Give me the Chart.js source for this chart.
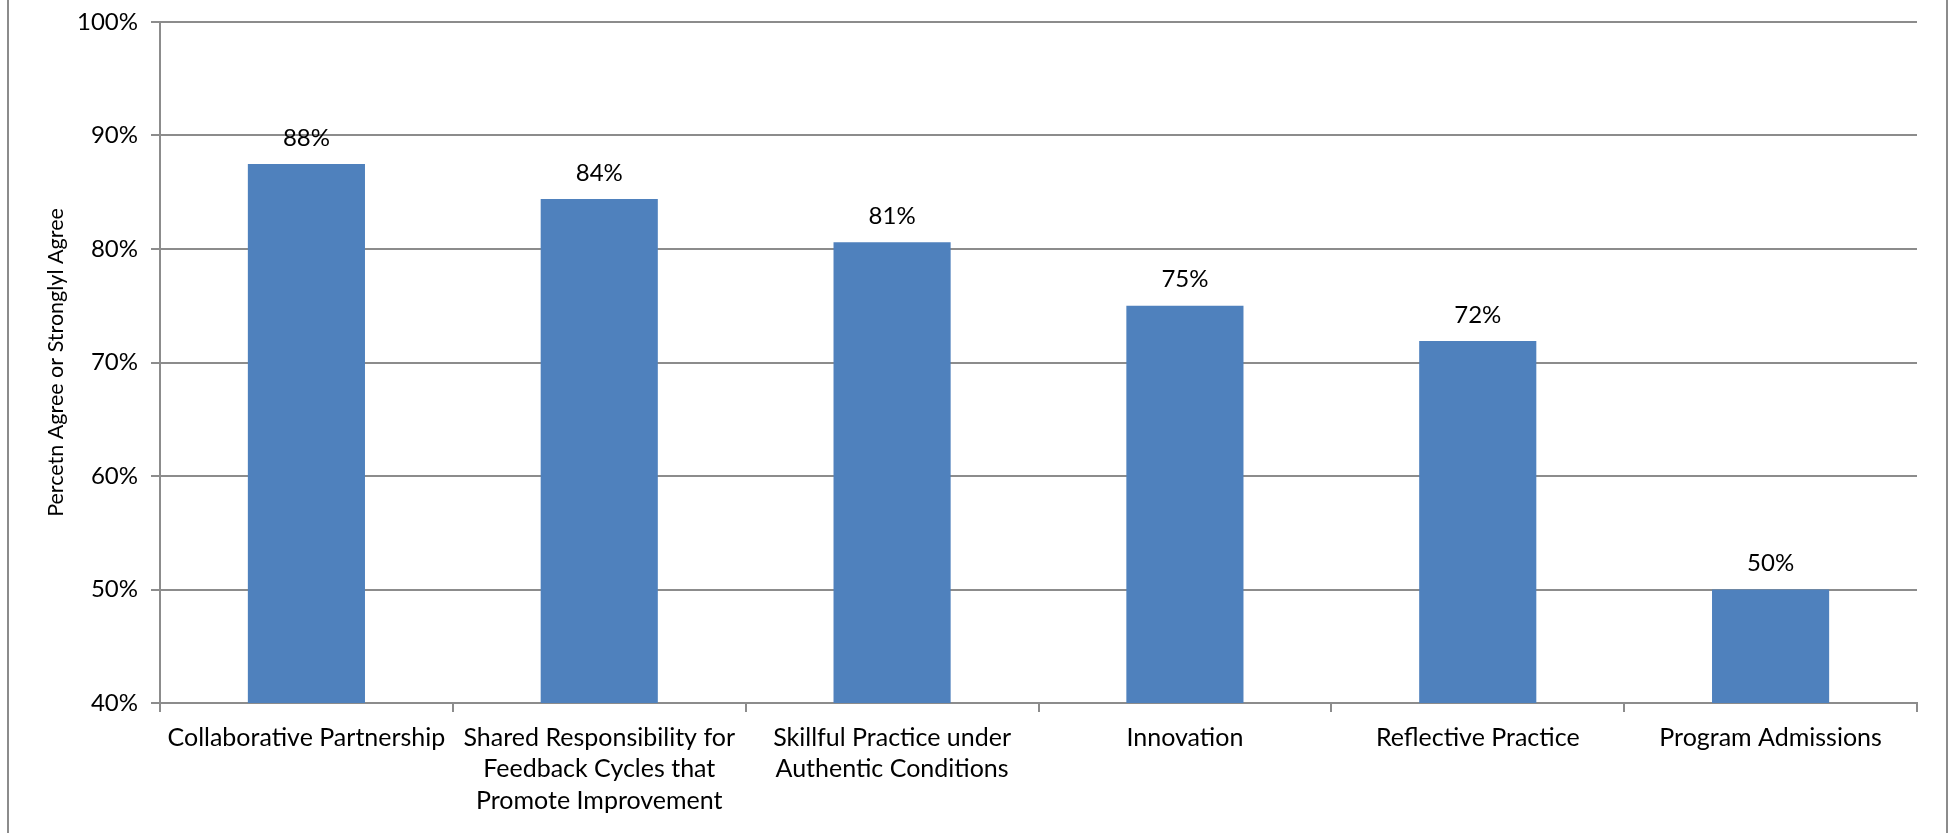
<!DOCTYPE html>
<html>
<head>
<meta charset="utf-8">
<script src="https://cdn.jsdelivr.net/npm/chart.js@4"></script>
<style>
  html, body { margin: 0; padding: 0; background: #fff; overflow: hidden; }
  #frame { position: absolute; left: 7px; top: -2px; width: 1937px; height: 840px;
           border-left: 2px solid #8c8c8c; border-right: 2px solid #8c8c8c; }
  #wrap { position: absolute; left: 0; top: 0; width: 1950px; height: 833px; }
</style>
</head>
<body>
<div id="frame"></div>
<div id="wrap"><canvas id="myChart1" width="1950" height="833"></canvas></div>
<script>
// Categories and values
const categories = [
    'Collaborative Partnership',
    ['Shared Responsibility for', 'Feedback Cycles that', 'Promote Improvement'],
    ['Skillful Practice under', 'Authentic Conditions'],
    'Innovation',
    'Reflective Practice',
    'Program Admissions'
];
const pctAgree = [87.5, 84.4, 80.6, 75.0, 71.9, 50.0];
const yTicks = [40, 50, 60, 70, 80, 90, 100];

const FONT = 'Lato, "Open Sans", sans-serif';
const gridGray = '#8c8c8c';

// Draw the value labels above each bar
const barLabels = {
    id: 'barLabels',
    afterDatasetsDraw(chart) {
        const ctx = chart.ctx;
        const meta = chart.getDatasetMeta(0);
        ctx.save();
        ctx.font = '24px ' + FONT;
        ctx.fillStyle = '#000';
        ctx.textAlign = 'center';
        ctx.textBaseline = 'middle';
        meta.data.forEach((bar, i) => {
            ctx.fillText(Math.round(pctAgree[i]) + '%', bar.x, bar.y - 26);
        });
        ctx.restore();
    }
};

const ctx = document.getElementById('myChart1').getContext('2d');

const myChart1 = new Chart(ctx, {
    type: 'bar',
    data: {
        labels: categories,
        datasets: [{
            label: 'Percent Agree',
            data: pctAgree,
            backgroundColor: '#4f81bd',
            borderWidth: 0,
            categoryPercentage: 1.0,
            barPercentage: 0.4
        }]
    },
    options: {
        responsive: false,
        animation: false,
        layout: {
            padding: { top: 22, right: 33, left: 0, bottom: 0 }
        },
        scales: {
            x: {
                grid: {
                    display: true,
                    drawOnChartArea: false,
                    drawTicks: true,
                    tickLength: 9,
                    color: gridGray,
                    lineWidth: 2
                },
                border: { display: true, color: gridGray, width: 2 },
                ticks: {
                    color: '#000',
                    font: { family: FONT, size: 25, lineHeight: 1.26 },
                    padding: 10,
                    maxRotation: 0,
                    autoSkip: false
                },
                afterFit: scale => { scale.height = 130; }
            },
            y: {
                min: 40,
                max: 100,
                afterBuildTicks: scale => {
                    scale.ticks = yTicks.map(v => ({ value: v }));
                },
                grid: {
                    color: gridGray,
                    lineWidth: 2,
                    tickLength: 9
                },
                border: { display: true, color: gridGray, width: 2 },
                ticks: {
                    color: '#000',
                    font: { family: FONT, size: 24 },
                    padding: 13,
                    callback: v => v + '%'
                },
                title: {
                    display: true,
                    text: 'Percetn Agree or Stronglyl Agree',
                    color: '#000',
                    font: { family: FONT, size: 21.5 },
                    padding: { top: 43, bottom: 0 }
                },
                afterFit: scale => {
                    scale.width = 160;
                    scale.paddingTop = 0;
                    scale.paddingBottom = 0;
                }
            }
        },
        plugins: {
            legend: { display: false },
            tooltip: { enabled: false }
        }
    },
    plugins: [barLabels]
});
</script>
</body>
</html>
